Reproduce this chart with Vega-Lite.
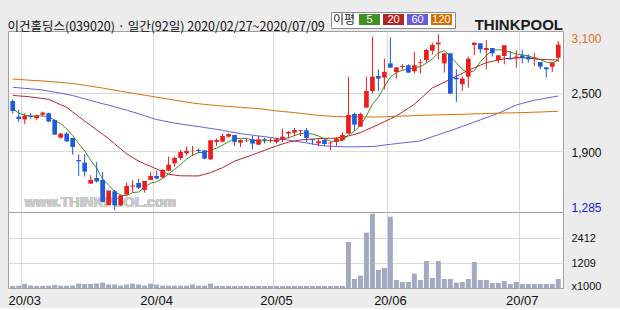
{
  "$schema": "https://vega.github.io/schema/vega-lite/v6.json",
  "background": "#ececec",
  "padding": {"left": 7, "top": 11, "right": 20, "bottom": 0},
  "config": {
    "view": {"stroke": "#a0a0a0", "fill": "white"},
    "concat": {"spacing": 0},
    "axis": {"labelFont": "Liberation Sans", "labelColor": "#111"}
  },
  "title": {
    "text": "이건홀딩스(039020) · 일간(92일) 2020/02/27~2020/07/09",
    "anchor": "start",
    "frame": "bounds",
    "font": "Noto Sans CJK KR",
    "fontSize": 12.5,
    "fontWeight": "normal",
    "color": "#111",
    "offset": -22
  },
  "data": {
    "values": [
      {"d":"2020-02-27","o":2416,"h":2433,"l":2286,"c":2314,"v":100,"m5":2340,"m20":2474,"m60":2556,"m120":2640},
      {"d":"2020-02-28","o":2256,"h":2324,"l":2201,"c":2232,"v":110,"m5":2290,"m20":2468,"m60":2551,"m120":2636},
      {"d":"2020-03-02","o":2228,"h":2290,"l":2177,"c":2263,"v":200,"m5":2270,"m20":2463,"m60":2545,"m120":2632},
      {"d":"2020-03-03","o":2262,"h":2290,"l":2235,"c":2252,"v":120,"m5":2262,"m20":2457,"m60":2540,"m120":2628},
      {"d":"2020-03-04","o":2239,"h":2276,"l":2222,"c":2266,"v":100,"m5":2265,"m20":2449,"m60":2534,"m120":2624},
      {"d":"2020-03-05","o":2276,"h":2307,"l":2263,"c":2297,"v":100,"m5":2262,"m20":2441,"m60":2528,"m120":2621},
      {"d":"2020-03-06","o":2290,"h":2297,"l":2201,"c":2205,"v":110,"m5":2257,"m20":2433,"m60":2517,"m120":2616},
      {"d":"2020-03-09","o":2222,"h":2225,"l":2068,"c":2072,"v":150,"m5":2218,"m20":2405,"m60":2506,"m120":2611},
      {"d":"2020-03-10","o":2041,"h":2089,"l":2031,"c":2082,"v":110,"m5":2184,"m20":2378,"m60":2495,"m120":2606},
      {"d":"2020-03-11","o":2082,"h":2099,"l":1997,"c":2003,"v":110,"m5":2132,"m20":2350,"m60":2484,"m120":2600},
      {"d":"2020-03-12","o":2038,"h":2038,"l":1867,"c":1945,"v":120,"m5":2061,"m20":2304,"m60":2472,"m120":2595},
      {"d":"2020-03-13","o":1812,"h":1870,"l":1649,"c":1799,"v":210,"m5":1980,"m20":2257,"m60":2455,"m120":2586},
      {"d":"2020-03-16","o":1785,"h":1870,"l":1642,"c":1693,"v":190,"m5":1904,"m20":2211,"m60":2438,"m120":2577},
      {"d":"2020-03-17","o":1570,"h":1656,"l":1570,"c":1608,"v":190,"m5":1810,"m20":2166,"m60":2421,"m120":2567},
      {"d":"2020-03-18","o":1628,"h":1792,"l":1581,"c":1594,"v":220,"m5":1728,"m20":2120,"m60":2404,"m120":2558},
      {"d":"2020-03-19","o":1608,"h":1690,"l":1376,"c":1383,"v":260,"m5":1615,"m20":2075,"m60":2388,"m120":2548},
      {"d":"2020-03-20","o":1349,"h":1499,"l":1349,"c":1499,"v":170,"m5":1555,"m20":2030,"m60":2374,"m120":2537},
      {"d":"2020-03-23","o":1492,"h":1506,"l":1298,"c":1349,"v":170,"m5":1487,"m20":1978,"m60":2357,"m120":2527},
      {"d":"2020-03-24","o":1349,"h":1451,"l":1342,"c":1451,"v":120,"m5":1455,"m20":1927,"m60":2339,"m120":2516},
      {"d":"2020-03-25","o":1458,"h":1581,"l":1451,"c":1547,"v":170,"m5":1446,"m20":1875,"m60":2322,"m120":2506},
      {"d":"2020-03-26","o":1540,"h":1608,"l":1478,"c":1550,"v":210,"m5":1479,"m20":1838,"m60":2304,"m120":2495},
      {"d":"2020-03-27","o":1577,"h":1622,"l":1512,"c":1529,"v":170,"m5":1485,"m20":1800,"m60":2285,"m120":2485},
      {"d":"2020-03-30","o":1506,"h":1598,"l":1478,"c":1598,"v":120,"m5":1535,"m20":1773,"m60":2266,"m120":2475},
      {"d":"2020-03-31","o":1608,"h":1690,"l":1608,"c":1649,"v":200,"m5":1575,"m20":1747,"m60":2245,"m120":2465},
      {"d":"2020-04-01","o":1649,"h":1703,"l":1615,"c":1622,"v":160,"m5":1590,"m20":1720,"m60":2226,"m120":2455},
      {"d":"2020-04-02","o":1635,"h":1717,"l":1622,"c":1710,"v":110,"m5":1622,"m20":1693,"m60":2214,"m120":2445},
      {"d":"2020-04-03","o":1703,"h":1847,"l":1697,"c":1765,"v":110,"m5":1669,"m20":1666,"m60":2202,"m120":2435},
      {"d":"2020-04-06","o":1778,"h":1847,"l":1744,"c":1833,"v":110,"m5":1716,"m20":1658,"m60":2190,"m120":2425},
      {"d":"2020-04-07","o":1833,"h":1915,"l":1812,"c":1894,"v":110,"m5":1765,"m20":1650,"m60":2180,"m120":2415},
      {"d":"2020-04-08","o":1881,"h":1949,"l":1860,"c":1905,"v":110,"m5":1821,"m20":1650,"m60":2171,"m120":2405},
      {"d":"2020-04-09","o":1905,"h":1956,"l":1853,"c":1908,"v":170,"m5":1861,"m20":1649,"m60":2162,"m120":2395},
      {"d":"2020-04-10","o":1915,"h":1929,"l":1881,"c":1905,"v":110,"m5":1889,"m20":1649,"m60":2154,"m120":2388},
      {"d":"2020-04-13","o":1911,"h":1911,"l":1819,"c":1826,"v":110,"m5":1888,"m20":1666,"m60":2145,"m120":2381},
      {"d":"2020-04-14","o":1819,"h":2014,"l":1812,"c":2014,"v":210,"m5":1912,"m20":1683,"m60":2135,"m120":2375},
      {"d":"2020-04-16","o":1997,"h":2031,"l":1956,"c":2017,"v":100,"m5":1934,"m20":1708,"m60":2126,"m120":2370},
      {"d":"2020-04-17","o":2000,"h":2082,"l":1990,"c":2058,"v":100,"m5":1964,"m20":1734,"m60":2115,"m120":2365},
      {"d":"2020-04-20","o":2051,"h":2085,"l":2041,"c":2078,"v":100,"m5":1999,"m20":1767,"m60":2104,"m120":2360},
      {"d":"2020-04-21","o":2068,"h":2068,"l":1956,"c":1997,"v":100,"m5":2033,"m20":1800,"m60":2093,"m120":2355},
      {"d":"2020-04-22","o":1990,"h":2024,"l":1946,"c":2017,"v":100,"m5":2033,"m20":1822,"m60":2082,"m120":2351},
      {"d":"2020-04-23","o":2010,"h":2031,"l":1997,"c":2014,"v":100,"m5":2033,"m20":1843,"m60":2074,"m120":2346},
      {"d":"2020-04-24","o":2024,"h":2058,"l":1922,"c":1980,"v":100,"m5":2017,"m20":1865,"m60":2066,"m120":2342},
      {"d":"2020-04-27","o":1969,"h":2058,"l":1969,"c":2024,"v":100,"m5":2006,"m20":1888,"m60":2058,"m120":2338},
      {"d":"2020-04-28","o":2024,"h":2041,"l":1983,"c":2014,"v":100,"m5":2010,"m20":1911,"m60":2051,"m120":2330},
      {"d":"2020-04-29","o":2007,"h":2041,"l":1990,"c":2014,"v":100,"m5":2009,"m20":1934,"m60":2042,"m120":2322},
      {"d":"2020-05-04","o":1997,"h":2041,"l":1980,"c":2024,"v":100,"m5":2011,"m20":1956,"m60":2033,"m120":2314},
      {"d":"2020-05-06","o":2024,"h":2133,"l":1997,"c":2051,"v":100,"m5":2025,"m20":1976,"m60":2024,"m120":2308},
      {"d":"2020-05-07","o":2082,"h":2109,"l":2034,"c":2099,"v":100,"m5":2040,"m20":1995,"m60":2015,"m120":2303},
      {"d":"2020-05-08","o":2092,"h":2140,"l":2058,"c":2119,"v":100,"m5":2061,"m20":2006,"m60":2006,"m120":2297},
      {"d":"2020-05-11","o":2109,"h":2116,"l":2058,"c":2116,"v":100,"m5":2082,"m20":2017,"m60":1997,"m120":2290},
      {"d":"2020-05-12","o":2116,"h":2140,"l":1997,"c":2038,"v":100,"m5":2085,"m20":2022,"m60":1987,"m120":2283},
      {"d":"2020-05-13","o":2024,"h":2024,"l":1969,"c":2014,"v":100,"m5":2077,"m20":2026,"m60":1976,"m120":2276},
      {"d":"2020-05-14","o":1983,"h":2024,"l":1956,"c":2003,"v":100,"m5":2058,"m20":2031,"m60":1966,"m120":2269},
      {"d":"2020-05-15","o":2017,"h":2024,"l":1956,"c":1976,"v":100,"m5":2029,"m20":2033,"m60":1956,"m120":2265},
      {"d":"2020-05-18","o":1983,"h":1997,"l":1915,"c":1990,"v":100,"m5":2004,"m20":2034,"m60":1953,"m120":2260},
      {"d":"2020-05-19","o":1997,"h":2048,"l":1956,"c":2031,"v":100,"m5":2003,"m20":2036,"m60":1951,"m120":2256},
      {"d":"2020-05-20","o":2014,"h":2092,"l":2007,"c":2068,"v":100,"m5":2014,"m20":2047,"m60":1948,"m120":2255},
      {"d":"2020-05-21","o":2082,"h":2665,"l":2082,"c":2273,"v":2213,"m5":2068,"m20":2058,"m60":1946,"m120":2255},
      {"d":"2020-05-22","o":2283,"h":2297,"l":2109,"c":2174,"v":433,"m5":2107,"m20":2075,"m60":1947,"m120":2254},
      {"d":"2020-05-25","o":2154,"h":2297,"l":2154,"c":2283,"v":593,"m5":2166,"m20":2092,"m60":1948,"m120":2253},
      {"d":"2020-05-26","o":2348,"h":2665,"l":2348,"c":2518,"v":2662,"m5":2263,"m20":2120,"m60":1949,"m120":2253},
      {"d":"2020-05-27","o":2518,"h":3074,"l":2494,"c":2665,"v":3576,"m5":2383,"m20":2147,"m60":1950,"m120":2252},
      {"d":"2020-05-28","o":2672,"h":2740,"l":2518,"c":2645,"v":866,"m5":2457,"m20":2175,"m60":1957,"m120":2252},
      {"d":"2020-05-29","o":2655,"h":2849,"l":2535,"c":2713,"v":962,"m5":2565,"m20":2204,"m60":1965,"m120":2254},
      {"d":"2020-06-01","o":2801,"h":3068,"l":2757,"c":2757,"v":3431,"m5":2660,"m20":2234,"m60":1972,"m120":2257},
      {"d":"2020-06-02","o":2713,"h":2760,"l":2645,"c":2760,"v":385,"m5":2708,"m20":2263,"m60":1980,"m120":2259},
      {"d":"2020-06-03","o":2764,"h":2791,"l":2740,"c":2774,"v":289,"m5":2730,"m20":2303,"m60":1987,"m120":2262},
      {"d":"2020-06-04","o":2781,"h":2791,"l":2706,"c":2706,"v":289,"m5":2742,"m20":2342,"m60":1994,"m120":2264},
      {"d":"2020-06-05","o":2720,"h":2917,"l":2699,"c":2781,"v":690,"m5":2756,"m20":2382,"m60":2000,"m120":2267},
      {"d":"2020-06-08","o":2808,"h":2842,"l":2699,"c":2815,"v":385,"m5":2767,"m20":2438,"m60":2007,"m120":2269},
      {"d":"2020-06-09","o":2835,"h":2951,"l":2808,"c":2938,"v":1299,"m5":2803,"m20":2494,"m60":2028,"m120":2271},
      {"d":"2020-06-10","o":2931,"h":3013,"l":2890,"c":2989,"v":481,"m5":2846,"m20":2550,"m60":2050,"m120":2272},
      {"d":"2020-06-11","o":2996,"h":3100,"l":2842,"c":3013,"v":1299,"m5":2907,"m20":2579,"m60":2071,"m120":2274},
      {"d":"2020-06-12","o":2801,"h":2904,"l":2706,"c":2904,"v":433,"m5":2932,"m20":2609,"m60":2092,"m120":2275},
      {"d":"2020-06-15","o":2904,"h":2904,"l":2491,"c":2491,"v":433,"m5":2867,"m20":2638,"m60":2112,"m120":2277},
      {"d":"2020-06-16","o":2655,"h":2740,"l":2406,"c":2638,"v":257,"m5":2807,"m20":2669,"m60":2133,"m120":2278},
      {"d":"2020-06-17","o":2587,"h":2665,"l":2518,"c":2645,"v":289,"m5":2738,"m20":2699,"m60":2156,"m120":2280},
      {"d":"2020-06-18","o":2665,"h":2870,"l":2552,"c":2849,"v":433,"m5":2705,"m20":2730,"m60":2178,"m120":2282},
      {"d":"2020-06-19","o":2989,"h":3013,"l":2883,"c":3013,"v":1251,"m5":2727,"m20":2756,"m60":2201,"m120":2284},
      {"d":"2020-06-22","o":3006,"h":3006,"l":2904,"c":2945,"v":385,"m5":2818,"m20":2782,"m60":2223,"m120":2286},
      {"d":"2020-06-23","o":2938,"h":3040,"l":2740,"c":2958,"v":385,"m5":2882,"m20":2808,"m60":2246,"m120":2288},
      {"d":"2020-06-24","o":2958,"h":2958,"l":2870,"c":2904,"v":240,"m5":2934,"m20":2822,"m60":2268,"m120":2290},
      {"d":"2020-06-25","o":2835,"h":2883,"l":2801,"c":2883,"v":240,"m5":2941,"m20":2835,"m60":2290,"m120":2291},
      {"d":"2020-06-26","o":2876,"h":2986,"l":2791,"c":2986,"v":337,"m5":2935,"m20":2849,"m60":2318,"m120":2293},
      {"d":"2020-06-29","o":2856,"h":2928,"l":2842,"c":2842,"v":192,"m5":2915,"m20":2852,"m60":2347,"m120":2294},
      {"d":"2020-06-30","o":2856,"h":2938,"l":2757,"c":2870,"v":289,"m5":2897,"m20":2856,"m60":2375,"m120":2296},
      {"d":"2020-07-01","o":2883,"h":2938,"l":2801,"c":2856,"v":192,"m5":2887,"m20":2859,"m60":2391,"m120":2297},
      {"d":"2020-07-02","o":2870,"h":2893,"l":2808,"c":2842,"v":192,"m5":2879,"m20":2853,"m60":2407,"m120":2299},
      {"d":"2020-07-03","o":2856,"h":2911,"l":2774,"c":2863,"v":192,"m5":2855,"m20":2848,"m60":2423,"m120":2301},
      {"d":"2020-07-06","o":2815,"h":2815,"l":2740,"c":2767,"v":192,"m5":2840,"m20":2842,"m60":2434,"m120":2303},
      {"d":"2020-07-07","o":2760,"h":2760,"l":2655,"c":2740,"v":192,"m5":2814,"m20":2840,"m60":2445,"m120":2306},
      {"d":"2020-07-08","o":2767,"h":2808,"l":2713,"c":2808,"v":192,"m5":2804,"m20":2837,"m60":2456,"m120":2308},
      {"d":"2020-07-09","o":2859,"h":3030,"l":2815,"c":2992,"v":433,"m5":2834,"m20":2835,"m60":2467,"m120":2310}
    ]
  },
  "spacing": 0,
  "bounds": "flush",
  "vconcat": [
    {
      "width": 555,
      "height": 181,
      "title": {
        "text": "THINKPOOL",
        "anchor": "end",
        "frame": "group",
        "font": "Liberation Sans",
        "fontSize": 15,
        "fontWeight": "bold",
        "color": "#1c1c1c",
        "offset": -2
      },
      "encoding": {
        "x": {
          "field": "d",
          "type": "ordinal",
          "scale": {"type": "band", "paddingInner": 0, "paddingOuter": 0.29},
          "axis": {
            "values": ["2020-03-02", "2020-04-01", "2020-05-04", "2020-06-01", "2020-07-01"],
            "bandPosition": 0,
            "labels": false,
            "ticks": false,
            "domain": false,
            "grid": true,
            "gridColor": "#d9d9d9",
            "minExtent": 0,
            "maxExtent": 0,
            "labelPadding": 0,
            "title": null
          }
        }
      },
      "layer": [
        {
          "mark": {
            "type": "text",
            "text": "www.THINKPOOL.com",
            "align": "left",
            "baseline": "bottom",
            "font": "Liberation Sans",
            "fontSize": 14,
            "fontWeight": "bold",
            "color": "#c9c9c9"
          },
          "encoding": {
            "x": {"datum": "2020-03-02"},
            "y": {"datum": 1300, "type": "quantitative", "scale": {"domain": [1280, 3132], "nice": false, "zero": false}, "axis": {"title": null}}
          }
        },
        {
          "transform": [{"fold": ["m5", "m20", "m60", "m120"], "as": ["ma", "val"]}],
          "mark": {"type": "line", "strokeWidth": 1, "interpolate": "linear"},
          "encoding": {
            "y": {"field": "val", "type": "quantitative", "scale": {"domain": [1280, 3132], "nice": false, "zero": false}, "axis": {"title": null}},
            "color": {
              "field": "ma",
              "type": "nominal",
              "sort": ["m5", "m20", "m60", "m120"],
              "scale": {"domain": ["m5", "m20", "m60", "m120"], "range": ["#3f8f22", "#b52424", "#6a5ad8", "#d96d00"]},
              "legend": {
                "orient": "none",
                "legendX": 323,
                "legendY": -19,
                "direction": "horizontal",
                "title": "이평",
                "titleOrient": "left",
                "titleFont": "Noto Sans CJK KR",
                "titleFontSize": 12,
                "titleLineHeight": 11,
                "titleFontWeight": "normal",
                "titleColor": "#222",
                "titlePadding": 8,
                "symbolType": "M-1.91,-1H1.91V1H-1.91Z",
                "symbolSize": 121,
                "symbolStrokeWidth": 0,
                "labelOffset": -5.5,
                "labelAlign": "center",
                "labelColor": "white",
                "labelFont": "Liberation Sans",
                "labelFontSize": 11,
                "labelExpr": "slice(datum.label, 1)",
                "columnPadding": 1,
                "padding": 2,
                "strokeColor": "#8c8c8c",
                "fillColor": "white",
                "encode": {"symbols": {"update": {"fill": {"scale": "color", "field": "value"}, "stroke": {"value": "transparent"}}}}
              }
            }
          }
        },
        {
          "mark": {"type": "rule", "strokeWidth": 1},
          "encoding": {
            "y": {
              "field": "l",
              "type": "quantitative",
              "scale": {"domain": [1280, 3132], "nice": false, "zero": false},
              "axis": {
                "orient": "right",
                "title": null,
                "values": [1285, 1600, 1900, 2200, 2500, 2800, 3100],
                "format": ",d",
                "labelFont": "Liberation Sans",
                "labelFontSize": 12,
                "labelColor": {"condition": [{"test": "datum.value == 3100", "value": "#d9741c"}, {"test": "datum.value == 1285", "value": "#1020c8"}], "value": "#111"},
                "labelOffset": {"condition": [{"test": "datum.value == 3100", "value": 4}, {"test": "datum.value == 1285", "value": -4}], "value": 1},
                "grid": true,
                "gridColor": {"condition": {"test": "datum.value == 3100 || datum.value == 1285", "value": "rgba(0,0,0,0)"}, "value": "#d9d9d9"},
                "ticks": false,
                "domain": false,
                "labelPadding": 8
              }
            },
            "y2": {"field": "h"},
            "color": {"condition": {"test": "datum.c >= datum.o", "value": "#ef1c1c"}, "value": "#1e5adc"}
          }
        },
        {
          "mark": {"type": "bar", "width": {"band": 0.78}},
          "encoding": {
            "y": {"field": "o", "type": "quantitative", "scale": {"domain": [1280, 3132], "nice": false, "zero": false}, "axis": {"title": null}},
            "y2": {"field": "c"},
            "color": {"condition": {"test": "datum.c >= datum.o", "value": "#ef1c1c"}, "value": "#1e5adc"}
          }
        }
      ]
    },
    {
      "width": 555,
      "height": 76,
      "mark": {"type": "bar", "width": {"band": 0.83}, "color": "#a2aac2"},
      "encoding": {
        "x": {
          "field": "d",
          "type": "ordinal",
          "scale": {"type": "band", "paddingInner": 0, "paddingOuter": 0.29},
          "axis": {
            "values": ["2020-03-02", "2020-04-01", "2020-05-04", "2020-06-01", "2020-07-01"],
            "bandPosition": 0,
            "labelExpr": "slice(datum.value, 2, 4) + '/' + slice(datum.value, 5, 7)",
            "labelAngle": 0,
            "labelFont": "Liberation Sans",
            "labelFontSize": 13,
            "labelPadding": 6,
            "ticks": false,
            "domain": false,
            "grid": true,
            "gridColor": "#d9d9d9",
            "title": null
          }
        },
        "y": {
          "field": "v",
          "type": "quantitative",
          "scale": {"domain": [0, 3656], "nice": false, "zero": true},
          "axis": {
            "orient": "right",
            "title": null,
            "values": [0, 1209, 2412],
            "labelExpr": "datum.value == 0 ? 'x1000' : format(datum.value, 'd')",
            "labelFont": "Liberation Sans",
            "labelFontSize": 11,
            "labelOffset": {"condition": {"test": "datum.value == 0", "value": -2}, "value": 1},
            "grid": true,
            "gridColor": {"condition": {"test": "datum.value == 0", "value": "rgba(0,0,0,0)"}, "value": "#d9d9d9"},
            "ticks": false,
            "domain": false,
            "labelPadding": 8
          }
        }
      }
    }
  ]
}
